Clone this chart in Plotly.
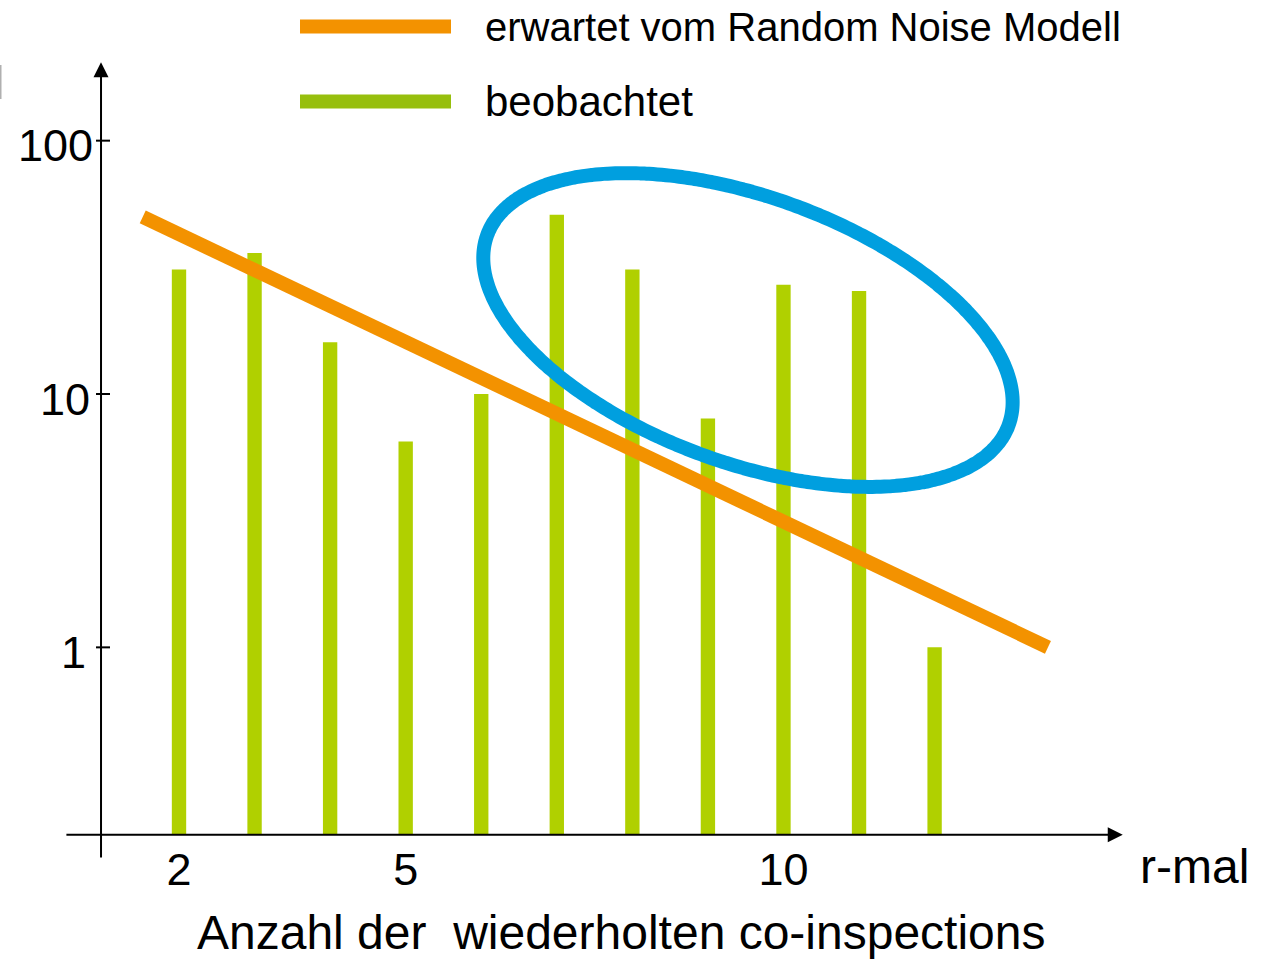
import numpy as np
import plotly.graph_objects as go

# ---------------- data ----------------
r_values = [2, 3, 4, 5, 6, 7, 8, 9, 10, 11, 12]
observed = [31, 36, 16, 6.5, 10, 51, 31, 8, 27, 25.5, 1]
expected_x = [1.52, 13.5]
expected_y = [50, 1.0]

x_tickvals = [2, 5, 10]
x_ticktext = ["2", "5", "10"]
y_tickvals = [1, 10, 100]
y_ticktext = ["1", "10", "100"]

legend_labels = ["erwartet vom Random Noise Modell", "beobachtet"]
x_title = "Anzahl der&nbsp; wiederholten co-inspections"
x_unit = "r-mal"

# highlight ellipse in (x, log10 y) space
ell_center = (9.53, 1.2526)
ell_major = (3.45, -0.3754)
ell_minor = (-0.606, -0.4925)

# axis geometry (data units)
axis_floor = 0.182          # where the x axis sits
axis_x = 0.968              # where the y axis sits
x_axis_span = (0.49, 14.49)
y_axis_span = (0.146, 204)

# ---------------- style ----------------
W, H = 1266, 959
FONT = "Liberation Sans, Arial, sans-serif"
C_BAR = "#B0D000"
C_BAR_LEG = "#97BF0D"
C_EXP = "#F39200"
C_ELL = "#009FDF"
x_range = [-0.369, 16.386]
y_range = [-1.2301, 2.5552]
y_label_xshift = [-13, -9, -6]   # per label, pixels from the axis
y_label_yshift = -5

def xfrac(v):
    return (v - x_range[0]) / (x_range[1] - x_range[0])

def yfrac(v):
    return (np.log10(v) - y_range[0]) / (y_range[1] - y_range[0])

fig = go.Figure()

fig.add_trace(go.Bar(
    x=r_values,
    y=[v - axis_floor for v in observed],
    base=axis_floor,
    width=0.19,
    marker=dict(color=C_BAR, line=dict(width=0)),
    hoverinfo="skip",
))

fig.add_trace(go.Scatter(
    x=expected_x, y=expected_y, mode="lines",
    line=dict(color=C_EXP, width=14),
    hoverinfo="skip",
))

t = np.linspace(0, 2 * np.pi, 361)
ex = ell_center[0] + np.cos(t) * ell_major[0] + np.sin(t) * ell_minor[0]
ely = ell_center[1] + np.cos(t) * ell_major[1] + np.sin(t) * ell_minor[1]
fig.add_trace(go.Scatter(
    x=ex, y=10 ** ely, mode="lines",
    line=dict(color=C_ELL, width=14, shape="spline"),
    hoverinfo="skip",
))

shapes = []
annotations = []

# y ticks crossing the axis, with their labels
for v, txt, xs in zip(y_tickvals, y_ticktext, y_label_xshift):
    shapes.append(dict(type="line", xref="x", yref="y", xsizemode="pixel",
                       xanchor=axis_x, x0=-5, x1=9, y0=v, y1=v,
                       line=dict(color="black", width=2)))
    annotations.append(dict(xref="x", yref="y", x=axis_x, y=np.log10(v),
                            xanchor="right", yanchor="middle", text=txt,
                            xshift=xs, yshift=y_label_yshift,
                            showarrow=False, font=dict(size=45, color="black")))

# axes with arrow heads
annotations.append(dict(xref="x", yref="y", axref="x", ayref="y",
                        x=x_axis_span[1], y=np.log10(axis_floor),
                        ax=x_axis_span[0], ay=np.log10(axis_floor),
                        text="", showarrow=True, arrowhead=2, arrowsize=1.5,
                        arrowwidth=2, arrowcolor="black", standoff=0))
annotations.append(dict(xref="x", yref="y", axref="x", ayref="y",
                        x=axis_x, y=np.log10(y_axis_span[1]),
                        ax=axis_x, ay=np.log10(y_axis_span[0]),
                        text="", showarrow=True, arrowhead=2, arrowsize=1.5,
                        arrowwidth=2, arrowcolor="black", standoff=0))

# manual legend
leg_colors = [C_EXP, C_BAR_LEG]
leg_sizes = [40, 42]
leg_py = [26.5, 101.5]
for lab, col, fs, py in zip(legend_labels, leg_colors, leg_sizes, leg_py):
    shapes.append(dict(type="line", xref="paper", yref="paper",
                       x0=300 / W, x1=451 / W, y0=1 - py / H, y1=1 - py / H,
                       line=dict(color=col, width=14)))
    annotations.append(dict(xref="paper", yref="paper", x=483 / W, y=1 - py / H,
                            xanchor="left", yanchor="middle", text=lab,
                            showarrow=False, font=dict(size=fs, color="black")))

# axis texts
annotations.append(dict(xref="paper", yref="paper", x=1138 / W, y=1 - 866 / H,
                        xanchor="left", yanchor="middle", text=x_unit,
                        showarrow=False, font=dict(size=48, color="black")))
annotations.append(dict(xref="paper", yref="paper", x=620.5 / W, y=1 - 932 / H,
                        xanchor="center", yanchor="middle", text=x_title,
                        showarrow=False, font=dict(size=48, color="black")))

# clipped mark at the top-left edge of the original
shapes.append(dict(type="line", xref="paper", yref="paper",
                   x0=0.5 / W, x1=0.5 / W, y0=1 - 65 / H, y1=1 - 99 / H,
                   line=dict(color="#B0B0B0", width=2)))

fig.update_layout(
    width=W, height=H,
    margin=dict(l=0, r=0, t=0, b=0),
    paper_bgcolor="white", plot_bgcolor="white",
    showlegend=False,
    font=dict(family=FONT, color="black"),
    xaxis=dict(range=x_range, anchor="free", position=yfrac(axis_floor),
               showgrid=False, zeroline=False, showline=False,
               tickmode="array", tickvals=x_tickvals, ticktext=x_ticktext,
               ticks="", tickfont=dict(size=45), ticklabelstandoff=4),
    yaxis=dict(type="log", range=y_range, anchor="free", position=xfrac(axis_x),
               showgrid=False, zeroline=False, showline=False,
               tickmode="array", tickvals=y_tickvals, showticklabels=False,
               ticks=""),
    shapes=shapes,
    annotations=annotations,
)

fig.write_html("out.html",
               config={"displayModeBar": False, "staticPlot": True},
               post_script="document.body.style.margin='0';document.body.style.overflow='hidden';")
